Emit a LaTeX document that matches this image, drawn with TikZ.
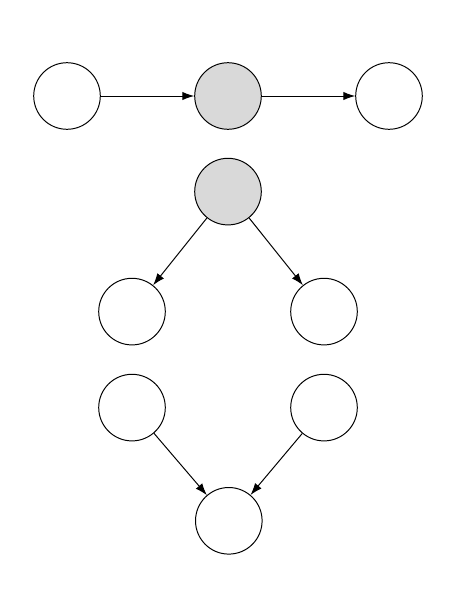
\documentclass[tikz,border=0pt]{standalone}
\usepackage{tikz}
\usetikzlibrary{arrows.meta, positioning}

\begin{document}
\begin{tikzpicture}[
  var/.style={draw, circle, line width=0.7pt, minimum size=1.665cm, inner sep=0pt},
  obs/.style={var, fill=black!15},
  every edge/.style={draw, line width=0.7pt},
  >={Latex[length=8.5pt, width=6pt]}, on grid
]
\useasboundingbox (0,0) rectangle (11.55,-15.325);

% chain
\node[var] (x1) at (1.675,-2.4) {};
\node[obs, right=4.025cm of x1] (z1) {};
\node[var, right=4.025cm of z1] (y1) {};

% fork
\node[obs, below=2.39cm of z1] (z2) {};
\node[var, below left=3cm and 2.4cm of z2]  (x2) {};
\node[var, below right=3cm and 2.4cm of z2] (y2) {};

% collider
\node[var, below=2.4cm of x2] (x3) {};
\node[var, below=2.4cm of y2] (y3) {};
\node[var, below right=2.83cm and 2.42cm of x3] (z3) {};

\draw[->] (x1) edge (z1) (z1) edge (y1);
\draw[->] (z2) edge (x2) (z2) edge (y2);
\draw[->] (x3) edge (z3) (y3) edge (z3);
\end{tikzpicture}
\end{document}
